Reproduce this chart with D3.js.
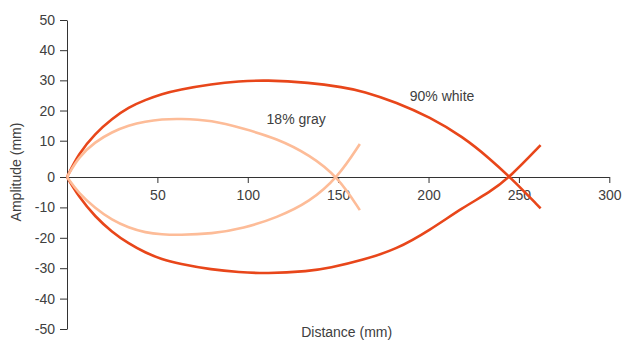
<!DOCTYPE html>
<html>
<head>
<meta charset="utf-8">
<script src="https://cdn.jsdelivr.net/npm/d3@7"></script>
<style>
  body { margin: 0; background: #fff; }
  svg { display: block; font-family: "Liberation Sans", Arial, sans-serif; }
  .axis path, .axis line { stroke: #333; }
  .axis text { fill: #404040; font-size: 14px; }
</style>
</head>
<body>
<div id="chart"></div>
<script>
// amplitude traces, [distance mm, amplitude mm]
const whiteUpper = [[0,0],[6.5,6.5],[15.6,12.4],[24.9,17.3],[34.1,21.1],[43.3,23.5],[52.5,25.5],[61.8,26.9],[80.2,28.8],[95,29.7],[110,30.1],[134,29.3],[152.8,27.7],[163.8,26.4],[182.3,22.7],[200.7,17.8],[219,11.3],[234,5.0],[245,0],[262,-10.3]];
const whiteLower = [[0,0],[6.5,-6.5],[15.6,-13.1],[24.9,-18.1],[34.1,-21.9],[43.3,-24.9],[52.5,-27.1],[61.8,-28.5],[80.2,-30.5],[95,-31.3],[110,-31.8],[134,-31],[145,-30.0],[163.8,-27.3],[182.3,-23.8],[200.7,-17.5],[219,-10.0],[234,-5.0],[245,0],[262,8.8]];
const grayUpper = [[0,0],[6.5,5.6],[15.6,9.7],[24.9,12.9],[34.1,15.1],[43.3,16.4],[52.5,17.1],[61.8,17.3],[80.2,16.8],[97.6,14],[116,10.8],[134.3,6.1],[150,0],[162,-10.9]];
const grayLower = [[0,0],[6.5,-5.4],[15.6,-10.3],[24.9,-14.2],[34.1,-16.7],[43.3,-18.3],[52.5,-18.9],[61.8,-19.1],[80.2,-18.7],[97.6,-16.9],[116,-13.4],[134.3,-8.2],[150,0],[162,9.1]];

const xTicks = [50, 100, 150, 200, 250, 300];
const yTicks = [-50, -40, -30, -20, -10, 0, 10, 20, 30, 40, 50];

const width = 627, height = 343;

const svg = d3.select("#chart").append("svg")
    .attr("width", width)
    .attr("height", height);

const x = d3.scaleLinear().domain([0, 300]).range([67, 609.3]);
// the original has a little extra gap above zero
const y = d3.scaleLinear().domain([-50, 0, 10, 50]).range([329, 177, 140.7, 20]);

// y axis
svg.append("g")
    .attr("class", "axis")
    .attr("transform", `translate(${x(0)},0)`)
    .call(d3.axisLeft(y).tickValues(yTicks).tickFormat(d => String(d))
        .tickSize(7).tickSizeOuter(0).tickPadding(5));

// x axis on zero line
svg.append("g")
    .attr("class", "axis")
    .attr("transform", `translate(0,${y(0)})`)
    .call(d3.axisBottom(x).tickValues(xTicks).tickFormat(d => String(d))
        .tickSize(6).tickSizeOuter(0).tickPadding(7));

svg.selectAll(".axis").attr("font-size", null).attr("font-family", null);

const line = d3.line()
    .x(d => x(d[0]))
    .y(d => y(d[1]))
    .curve(d3.curveBasis);

const traces = [
    { pts: whiteUpper, color: "#e8461a" },
    { pts: whiteLower, color: "#e8461a" },
    { pts: grayUpper, color: "#fdbc98" },
    { pts: grayLower, color: "#fdbc98" }
];

svg.selectAll("path.trace")
    .data(traces)
    .join("path")
    .attr("class", "trace")
    .attr("d", d => line(d.pts))
    .attr("fill", "none")
    .attr("stroke", d => d.color)
    .attr("stroke-width", 2.6);

// labels
svg.append("text")
    .attr("x", x(110.4)).attr("y", y(15.4))
    .attr("font-size", 14).attr("fill", "#404040")
    .text("18% gray");

svg.append("text")
    .attr("x", x(189.6)).attr("y", y(23.1))
    .attr("font-size", 14).attr("fill", "#404040")
    .text("90% white");

// axis titles
svg.append("text")
    .attr("transform", "translate(21,172) rotate(-90)")
    .attr("text-anchor", "middle")
    .attr("font-size", 14).attr("fill", "#404040")
    .text("Amplitude (mm)");

svg.append("text")
    .attr("x", 346.7).attr("y", 337)
    .attr("text-anchor", "middle")
    .attr("font-size", 14).attr("fill", "#404040")
    .text("Distance (mm)");
</script>
</body>
</html>
